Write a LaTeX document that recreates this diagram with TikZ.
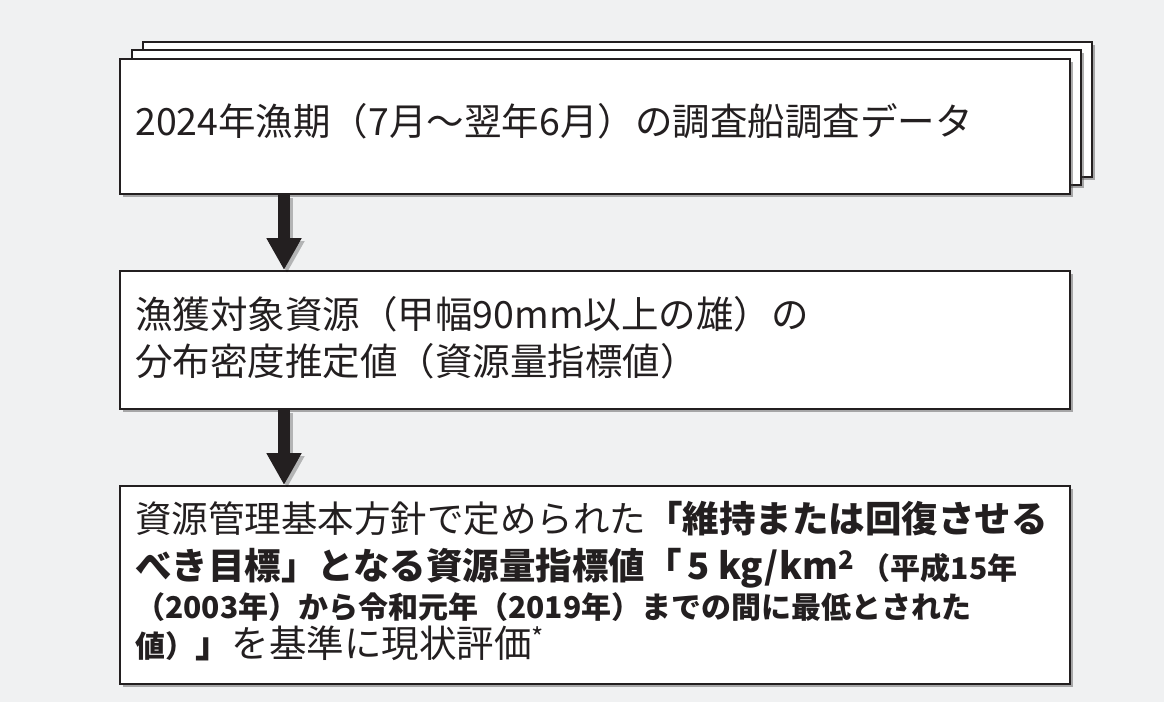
\documentclass[tikz,border=0pt]{standalone}
\usepackage{fontspec}
\setmainfont{Noto Sans CJK JP}
\usetikzlibrary{arrows.meta,shadows}
\definecolor{bg}{RGB}{240,241,242}
\definecolor{ink}{RGB}{35,31,32}
\begin{document}
\begin{tikzpicture}[x=1pt,y=-1pt,
  box/.style={draw=ink, line width=1.8pt, fill=white, inner sep=0pt, anchor=north west,
    drop shadow={shadow xshift=3pt, shadow yshift=-3pt, opacity=0.45, fill=black!70}},
  txt/.style={inner sep=0pt, anchor=base west, text=ink, font=\fontsize{36.5}{44}\selectfont},
  bigtxt/.style={txt, font=\fontsize{37.5}{44}\selectfont},
  smalltxt/.style={txt, font=\fontsize{30}{36}\selectfont\bfseries},
  flow/.style={draw=ink, line width=12pt, -{Triangle[length=32pt,width=33pt]}},
  flowshadow/.style={draw=black, opacity=0.25, line width=12pt, -{Triangle[length=32pt,width=33pt]}}
]
\fill[bg] (0,0) rectangle (1164,702);
\useasboundingbox (0,0) rectangle (1164,702);

% stacked top boxes
\node[box, minimum width=949pt, minimum height=135pt] (back) at (142,41) {};
\node[box, minimum width=949pt, minimum height=135pt] (mid) at (131,49) {};
\node[box, minimum width=950pt, minimum height=135pt] (front) at (119,58) {};
\node[bigtxt] (t1) at (135,135) {2024年漁期（7月～翌年6月）の調査船調査データ};

% second box
\node[box, minimum width=950pt, minimum height=138pt] (box2) at (119,270) {};
\node[bigtxt] (t2a) at (135,328) {漁獲対象資源（甲幅90mm以上の雄）の};
\node[bigtxt] (t2b) at (135,375) {分布密度推定値（資源量指標値）};

% third box
\node[box, minimum width=950pt, minimum height=198pt] (box3) at (119,485) {};
\node[txt] (t3a) at (135,532) {資源管理基本方針で定められた{\bfseries 「維持または回復させる}};
\node[txt] (t3b) at (135,579) {\bfseries べき目標」となる資源量指標値「\,5\ kg\kern1pt/\kern1pt km\textsuperscript{2}\,{\fontsize{30}{36}\selectfont （平成15年}};
\node[smalltxt] (t3c) at (135,618) {（2003年）から令和元年（2019年）までの間に最低とされた};
\node[txt] (t3d) at (135,657) {{\fontsize{30}{36}\selectfont\bfseries 値）}{\bfseries 」}{\fontsize{37.5}{44}\selectfont を基準に現状評価\textsuperscript{*}}};

% arrows
\coordinate (ax) at (284,0);
\draw[flowshadow] ([xshift=3pt,yshift=-3pt]front.south -| ax) -- ([xshift=3pt,yshift=-3pt]box2.north -| ax);
\draw[flow] (front.south -| ax) -- (box2.north -| ax);
\draw[flowshadow] ([xshift=3pt,yshift=-3pt]box2.south -| ax) -- ([xshift=3pt,yshift=-3pt]box3.north -| ax);
\draw[flow] (box2.south -| ax) -- (box3.north -| ax);
\end{tikzpicture}
\end{document}
